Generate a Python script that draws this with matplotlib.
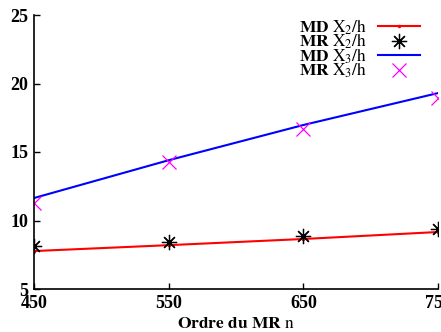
import matplotlib as mpl
mpl.use('Agg')
import matplotlib.pyplot as plt

# donnees
ordres = [450, 550, 650, 750]
md_x2 = [7.77, 8.2, 8.65, 9.16]
mr_x2 = [8.14, 8.43, 8.87, 9.38]
md_x3 = [11.64, 14.4, 16.97, 19.3]
mr_x3 = [11.28, 14.27, 16.68, 18.94]

plt.rcParams['font.family'] = 'Liberation Serif'
plt.rcParams['mathtext.fontset'] = 'stix'

fig = plt.figure(figsize=(4.41, 3.32), dpi=100)
ax = fig.add_axes([34/441, 1-289/332, (438-34)/441, (289-15)/332])

ax.plot(ordres, md_x2, color='red', lw=1.5, marker='.', markersize=3,
        label=r'$\mathbf{MD}\ \mathrm{X}_2/\mathrm{h}$')
ax.plot(ordres, mr_x2, ls='none', marker=(8, 2, 0), markersize=11, mew=0.9,
        color='black', label=r'$\mathbf{MR}\ \mathrm{X}_2/\mathrm{h}$')
ax.plot(ordres, md_x3, color='blue', lw=1.5,
        label=r'$\mathbf{MD}\ \mathrm{X}_3/\mathrm{h}$')
ax.plot(ordres, mr_x3, ls='none', marker='x', markersize=10, mew=0.9,
        color='magenta', label=r'$\mathbf{MR}\ \mathrm{X}_3/\mathrm{h}$')

ax.set_xlim(450, 750)
ax.set_ylim(5, 25)
ax.set_xticks(ordres)
ax.set_yticks([5, 10, 15, 20, 25])
ax.spines['top'].set_visible(False)
ax.spines['right'].set_visible(False)
for s in ['left', 'bottom']:
    ax.spines[s].set_linewidth(1.2)
ax.tick_params(direction='in', length=4, width=1, labelsize=13, pad=4)
for lab in ax.get_xticklabels() + ax.get_yticklabels():
    lab.set_fontweight('bold')

ax.set_xlabel(r'$\mathbf{Ordre\ du\ MR}\ \mathrm{n}$', fontsize=12.5, labelpad=3)

ax.legend(loc='upper right', bbox_to_anchor=(0.98, 1.03), frameon=False,
          markerfirst=False, fontsize=12.5, handlelength=2.4, labelspacing=-0.28,
          handletextpad=0.6, borderaxespad=0.2)

fig.savefig('out.png', dpi=100)
